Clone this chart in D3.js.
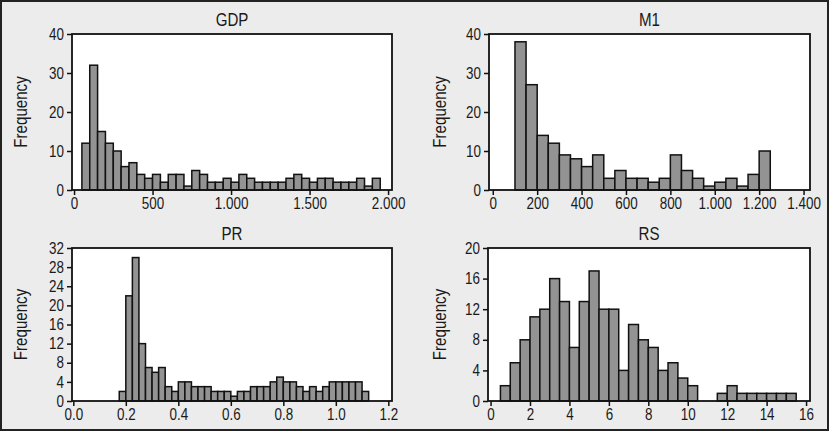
<!DOCTYPE html>
<html>
<head>
<meta charset="utf-8">
<script src="https://cdn.jsdelivr.net/npm/d3@7"></script>
<style>
  html, body { margin: 0; padding: 0; background: #ececec; }
  svg { display: block; }
  text { font-family: "Liberation Sans", Arial, sans-serif; fill: #1a1a1a; }
</style>
</head>
<body>
<svg id="chart" width="829" height="431"></svg>
<script>
// ---- data ----
const panelTitles = ["GDP", "M1", "PR", "RS"];

const gdpBinStart = 50, gdpBinWidth = 50;
const gdpCounts = [12,32,15,12,10,6,7,4,3,4,2,4,4,1,5,4,2,2,3,2,
                   4,3,2,2,2,2,3,4,3,2,3,3,2,2,2,3,1,3];

const m1BinStart = 100, m1BinWidth = 50;
const m1Counts = [38,27,14,12,9,8,6,9,3,5,3,3,2,3,9,5,3,1,2,3,1,4,10];

const prBinStart = 0.175, prBinWidth = 0.025;
const prCounts = [2,22,30,12,7,6,7,3,2,4,4,3,3,3,2,2,2,1,2,2,
                  3,3,3,4,5,4,4,3,2,3,2,3,4,4,4,4,4,2];

const rsBinStart = 0.5, rsBinWidth = 0.5;
const rsCounts = [2,5,8,11,12,16,13,7,13,17,12,12,4,10,8,7,4,5,3,2,
                  0,0,1,2,1,1,1,1,1,1];

const gdpXTicks = [0, 500, 1000, 1500, 2000];
const gdpXLabels = ["0", "500", "1.000", "1.500", "2.000"];
const m1XTicks = [0, 200, 400, 600, 800, 1000, 1200, 1400];
const m1XLabels = ["0", "200", "400", "600", "800", "1.000", "1.200", "1.400"];
const prXTicks = [0, 0.2, 0.4, 0.6, 0.8, 1.0, 1.2];
const prXLabels = ["0.0", "0.2", "0.4", "0.6", "0.8", "1.0", "1.2"];
const rsXTicks = [0, 2, 4, 6, 8, 10, 12, 14, 16];
const rsXLabels = ["0", "2", "4", "6", "8", "10", "12", "14", "16"];

const gdpYTicks = [0, 10, 20, 30, 40];
const m1YTicks = [0, 10, 20, 30, 40];
const prYTicks = [0, 4, 8, 12, 16, 20, 24, 28, 32];
const rsYTicks = [0, 4, 8, 12, 16, 20];

// ---- layout ----
const SX = 0.84; // horizontal squeeze to mimic a condensed face
const panels = [
  { title: panelTitles[0], start: gdpBinStart, width: gdpBinWidth, counts: gdpCounts,
    xTicks: gdpXTicks, xLabels: gdpXLabels, yTicks: gdpYTicks,
    xDomain: [-13, 2025], yMax: 40, left: 72, right: 392, top: 34, bottom: 190, freqX: 21 },
  { title: panelTitles[1], start: m1BinStart, width: m1BinWidth, counts: m1Counts,
    xTicks: m1XTicks, xLabels: m1XLabels, yTicks: m1YTicks,
    xDomain: [-17, 1429], yMax: 40, left: 489, right: 810, top: 34, bottom: 190, freqX: 440 },
  { title: panelTitles[2], start: prBinStart, width: prBinWidth, counts: prCounts,
    xTicks: prXTicks, xLabels: prXLabels, yTicks: prYTicks,
    xDomain: [-0.005, 1.214], yMax: 32, left: 72, right: 392, top: 248, bottom: 401, freqX: 21 },
  { title: panelTitles[3], start: rsBinStart, width: rsBinWidth, counts: rsCounts,
    xTicks: rsXTicks, xLabels: rsXLabels, yTicks: rsYTicks,
    xDomain: [-0.13, 16.2], yMax: 20, left: 488, right: 810, top: 248, bottom: 401, freqX: 440 }
];

const svg = d3.select("#chart");

svg.append("rect").attr("x", 1).attr("y", 1).attr("width", 827).attr("height", 429)
  .attr("fill", "#ececec").attr("stroke", "#222").attr("stroke-width", 2);

panels.forEach(p => {
  const x = d3.scaleLinear().domain(p.xDomain).range([p.left, p.right]);
  const y = d3.scaleLinear().domain([0, p.yMax]).range([p.bottom, p.top]);
  const g = svg.append("g");

  g.append("rect").attr("x", p.left).attr("y", p.top)
    .attr("width", p.right - p.left).attr("height", p.bottom - p.top)
    .attr("fill", "#ffffff");

  const bins = p.counts.map((c, i) => ({ x0: p.start + i * p.width, x1: p.start + (i + 1) * p.width, c }));
  g.selectAll("rect.bar").data(bins.filter(d => d.c > 0)).join("rect")
    .attr("class", "bar")
    .attr("x", d => x(d.x0)).attr("width", d => x(d.x1) - x(d.x0))
    .attr("y", d => y(d.c)).attr("height", d => y(0) - y(d.c))
    .attr("fill", "#939393").attr("stroke", "#111").attr("stroke-width", 1.5);

  g.append("rect").attr("x", p.left).attr("y", p.top)
    .attr("width", p.right - p.left).attr("height", p.bottom - p.top)
    .attr("fill", "none").attr("stroke", "#111").attr("stroke-width", 1.8);

  // x axis
  const xAxis = d3.axisBottom(x).tickValues(p.xTicks)
    .tickFormat((d, i) => p.xLabels[i]).tickSize(5).tickPadding(3);
  const xg = g.append("g").attr("transform", `translate(0,${p.bottom})`).call(xAxis);
  xg.select(".domain").remove();
  xg.selectAll("line").attr("stroke", "#111").attr("stroke-width", 1.5);
  xg.selectAll("text").attr("font-size", 16).attr("fill", "#1a1a1a")
    .style("font-family", '"Liberation Sans", Arial, sans-serif')
    .attr("transform", `scale(${SX},1)`);

  // y axis
  const yAxis = d3.axisLeft(y).tickValues(p.yTicks).tickSize(5).tickPadding(3);
  const yg = g.append("g").attr("transform", `translate(${p.left},0)`).call(yAxis);
  yg.select(".domain").remove();
  yg.selectAll("line").attr("stroke", "#111").attr("stroke-width", 1.5);
  yg.selectAll("text").attr("font-size", 16).attr("fill", "#1a1a1a")
    .style("font-family", '"Liberation Sans", Arial, sans-serif')
    .attr("x", -8 / SX)
    .attr("transform", `scale(${SX},1)`);

  // title
  g.append("text")
    .attr("transform", `translate(${(p.left + p.right) / 2},${p.top - 8}) scale(${SX},1)`)
    .attr("text-anchor", "middle").attr("font-size", 18).text(p.title);

  // y label
  g.append("text")
    .attr("transform", `translate(${p.freqX},${(p.top + p.bottom) / 2}) rotate(-90) scale(${SX},1)`)
    .attr("text-anchor", "middle").attr("dy", "0.35em")
    .attr("font-size", 18).text("Frequency");
});
</script>
</body>
</html>
